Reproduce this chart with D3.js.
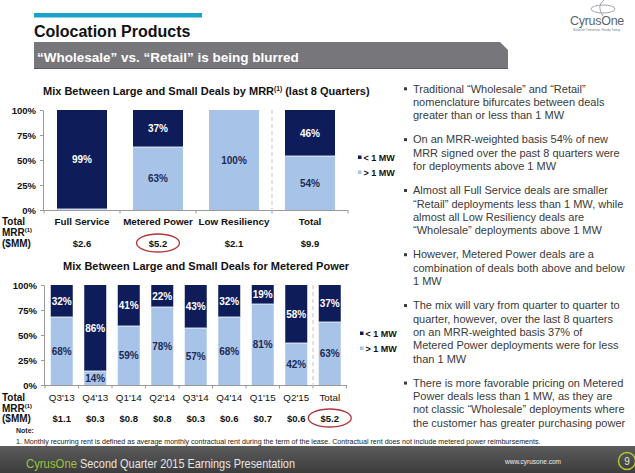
<!DOCTYPE html>
<html><head><meta charset="utf-8">
<script src="https://cdn.jsdelivr.net/npm/d3@7/dist/d3.min.js"></script>
<style>
html,body{margin:0;padding:0;background:#fff;}
svg{display:block;font-family:"Liberation Sans",Arial,sans-serif;}
</style></head>
<body>
<svg id="c" width="635" height="473"></svg>
<script>
// ---- data ----
const topCategories = ["Full Service", "Metered Power", "Low Resiliency", "Total"];
const topSmall = [99, 37, 0, 46];   // < 1 MW
const topLarge = [1, 63, 100, 54];  // > 1 MW
const topMRR = ["$2.6", "$5.2", "$2.1", "$9.9"];

const quarters = ["Q3'13", "Q4'13", "Q1'14", "Q2'14", "Q3'14", "Q4'14", "Q1'15", "Q2'15", "Total"];
const qSmall = [32, 86, 41, 22, 43, 32, 19, 58, 37];
const qLarge = [68, 14, 59, 78, 57, 68, 81, 42, 63];
const qMRR = ["$1.1", "$0.3", "$0.8", "$0.8", "$0.3", "$0.6", "$0.7", "$0.6", "$5.2"];

const yTicks = [0, 25, 50, 75, 100];
const legendLabels = ["< 1 MW", "> 1 MW"];

const bullets = [
  ["Traditional \u201cWholesale\u201d and \u201cRetail\u201d", "nomenclature bifurcates between deals", "greater than or less than 1 MW"],
  ["On an MRR-weighted basis 54% of new", "MRR signed over the past 8 quarters were", "for deployments above 1 MW"],
  ["Almost all Full Service deals are smaller", "\u201cRetail\u201d deployments less than 1 MW, while", "almost all Low Resiliency deals are", "\u201cWholesale\u201d deployments above 1 MW"],
  ["However, Metered Power deals are a", "combination of deals both above and below", "1 MW"],
  ["The mix will vary from quarter to quarter to", "quarter, however, over the last 8 quarters", "on an MRR-weighted basis 37% of", "Metered Power deployments were for less", "than 1 MW"],
  ["There is more favorable pricing on Metered", "Power deals less than 1 MW, as they are", "not classic \u201cWholesale\u201d deployments where", "the customer has greater purchasing power"]
];

// ---- styles ----
const DARK = "#0e1d5a", LIGHT = "#a8c3e8", LABEL_DARK = "#1c2a56";
const svg = d3.select("#c");

// header
svg.append("rect").attr("x", 34).attr("y", 13).attr("width", 168).attr("height", 4.5).attr("fill", "#1ba2c9");
svg.append("text").attr("x", 34).attr("y", 36.5).attr("font-size", 16).attr("font-weight", "bold").attr("fill", "#111").text("Colocation Products");
svg.append("path").attr("d", "M34,42 H500 L508,50 V69 H34 Z").attr("fill", "#77777b");
svg.append("line").attr("x1", 34).attr("x2", 508).attr("y1", 68.5).attr("y2", 68.5).attr("stroke", "#5d5d60");
svg.append("text").attr("x", 37).attr("y", 61.5).attr("font-size", 13.5).attr("font-weight", "bold").attr("fill", "#fff")
  .text("\u201cWholesale\u201d vs. \u201cRetail\u201d is being blurred");

// logo
const logo = svg.append("g");
logo.append("ellipse").attr("cx", 603).attr("cy", 9).attr("rx", 12).attr("ry", 4).attr("fill", "none").attr("stroke", "#8a9097").attr("stroke-width", 0.8);
logo.append("path").attr("d", "M604,0 Q596,6 603,16").attr("fill", "none").attr("stroke", "#8a9097").attr("stroke-width", 0.8);
logo.append("text").attr("x", 597).attr("y", 25).attr("text-anchor", "middle").attr("font-size", 12.5).attr("fill", "#5b6470").attr("letter-spacing", -0.3).text("CyrusOne");
logo.append("text").attr("x", 597).attr("y", 31).attr("text-anchor", "middle").attr("font-size", 3.2).attr("fill", "#7a7f86").text("Build for Tomorrow. Ready Today.");

// generic stacked chart
function stacked(opts) {
  const g = svg.append("g");
  const x = d3.scaleBand().domain(opts.cats).range(opts.xr).paddingInner(opts.pad).paddingOuter(opts.pad / 2);
  const y = d3.scaleLinear().domain([0, 100]).range(opts.yr);
  // title
  const t = g.append("text").attr("x", opts.titleX).attr("y", opts.titleY).attr("font-size", opts.titleSize).attr("font-weight", "bold").attr("fill", "#111");
  t.append("tspan").text(opts.title[0]);
  if (opts.title.length > 1) {
    t.append("tspan").attr("font-size", opts.titleSize * 0.6).attr("dy", -4).text(opts.title[1]);
    t.append("tspan").attr("dy", 4).text(opts.title[2]);
  }
  // y axis
  const ya = g.append("g").attr("transform", `translate(${opts.xr[0] - 1},0)`)
    .call(d3.axisLeft(y).tickValues(yTicks).tickFormat(d => d + "%").tickSize(3).tickSizeOuter(0).tickPadding(4));
  ya.select(".domain").attr("stroke", "#9a9a9a");
  ya.selectAll(".tick line").attr("stroke", "#9a9a9a");
  ya.selectAll("text").attr("font-size", 9.5).attr("font-weight", "bold").attr("fill", "#111").attr("font-family", "Liberation Sans, Arial, sans-serif");
  // x axis line with boundary ticks
  const y0 = y(0);
  g.append("line").attr("x1", opts.xr[0] - 1).attr("x2", opts.xr[1]).attr("y1", y0 + 0.5).attr("y2", y0 + 0.5).attr("stroke", "#9a9a9a");
  const bounds = opts.cats.map(c => x(c) - x.step() * opts.pad / 2).concat([x(opts.cats[opts.cats.length - 1]) + x.bandwidth() + x.step() * opts.pad / 2]);
  g.selectAll(".bt").data(bounds).join("line").attr("x1", d => d).attr("x2", d => d).attr("y1", y0).attr("y2", y0 + 3.5).attr("stroke", "#9a9a9a");
  // dashed separator before last
  const sep = bounds[bounds.length - 2];
  g.append("line").attr("x1", sep).attr("x2", sep).attr("y1", y(100)).attr("y2", y0 + 3).attr("stroke", "#c4c4c4").attr("stroke-dasharray", "4,3");
  // bars
  opts.cats.forEach((c, i) => {
    const lg = opts.large[i], sm = opts.small[i];
    g.append("rect").attr("x", x(c)).attr("width", x.bandwidth()).attr("y", y(lg)).attr("height", y0 - y(lg)).attr("fill", LIGHT);
    g.append("rect").attr("x", x(c)).attr("width", x.bandwidth()).attr("y", y(lg + sm)).attr("height", y(lg) - y(lg + sm)).attr("fill", DARK);
    if (sm > 0 && lg > 0) g.append("line").attr("x1", x(c)).attr("x2", x(c) + x.bandwidth()).attr("y1", y(lg)).attr("y2", y(lg)).attr("stroke", "#fff").attr("stroke-width", 0.8);
    const cx = x(c) + x.bandwidth() / 2;
    if (sm >= 5) g.append("text").attr("x", cx).attr("y", (y(lg) + y(lg + sm)) / 2).attr("dy", "0.35em").attr("text-anchor", "middle")
      .attr("font-size", opts.lblSize).attr("font-weight", "bold").attr("fill", "#fff").text(sm + "%");
    if (lg >= 5) g.append("text").attr("x", cx).attr("y", (y0 + y(lg)) / 2).attr("dy", "0.35em").attr("text-anchor", "middle")
      .attr("font-size", opts.lblSize).attr("font-weight", "bold").attr("fill", LABEL_DARK).text(lg + "%");
    // category label
    g.append("text").attr("x", cx).attr("y", opts.catY).attr("text-anchor", "middle").attr("font-size", opts.catSize)
      .attr("font-weight", opts.catBold ? "bold" : "normal").attr("fill", "#111").text(c);
    // MRR value
    g.append("text").attr("x", cx).attr("y", opts.valY).attr("text-anchor", "middle").attr("font-size", 9.5).attr("font-weight", "bold").attr("fill", "#111").text(opts.mrr[i]);
    if (opts.circle === i) g.append("ellipse").attr("cx", cx).attr("cy", opts.valY - 3.5).attr("rx", 21.5).attr("ry", 9).attr("fill", "none").attr("stroke", "#b1353d").attr("stroke-width", 1.3);
  });
  // row label
  const rl = g.append("text").attr("font-size", 10).attr("font-weight", "bold").attr("fill", "#111");
  rl.append("tspan").attr("x", 2).attr("y", opts.catY).text("Total");
  rl.append("tspan").attr("x", 2).attr("y", opts.catY + 11).text("MRR");
  rl.append("tspan").attr("font-size", 6).attr("dy", -4).text("(1)");
  rl.append("tspan").attr("x", 2).attr("y", opts.valY).text("($MM)");
  // legend
  legendLabels.forEach((l, i) => {
    const ly = opts.legY + i * 15;
    g.append("rect").attr("x", opts.legX).attr("y", ly - 5).attr("width", 3.5).attr("height", 3.5).attr("fill", i === 0 ? DARK : LIGHT);
    g.append("text").attr("x", opts.legX + 5.5).attr("y", ly).attr("font-size", 9).attr("font-weight", "bold").attr("fill", "#111").text(l);
  });
}

stacked({
  cats: topCategories, small: topSmall, large: topLarge, mrr: topMRR,
  xr: [44, 348], yr: [210, 110], pad: 26 / 76,
  title: ["Mix Between Large and Small Deals by MRR", "(1)", " (last 8 Quarters)"], titleX: 43, titleY: 95, titleSize: 11,
  lblSize: 10, catY: 225, catSize: 9.8, catBold: true, valY: 246.5, circle: 1, legX: 358, legY: 160.5
});
stacked({
  cats: quarters, small: qSmall, large: qLarge, mrr: qMRR,
  xr: [45, 346.5], yr: [385, 285], pad: 11.5 / 33.5,
  title: ["Mix Between Large and Small Deals for Metered Power"], titleX: 63, titleY: 270, titleSize: 11,
  lblSize: 10, catY: 400.5, catSize: 9.8, catBold: false, valY: 421.5, circle: 8, legX: 360, legY: 336.5
});

// bullets
let by = 92.5;
const LS = 13.33, GAP = 24.2;
const bg = svg.append("g").attr("font-size", 11).attr("fill", "#3a3a3a");
bullets.forEach(lines => {
  bg.append("rect").attr("x", 404).attr("y", by - 5.2).attr("width", 3).attr("height", 3).attr("fill", "#3a3a3a");
  lines.forEach((ln, j) => {
    bg.append("text").attr("x", 413).attr("y", by + j * LS).text(ln);
  });
  by += (lines.length - 1) * LS + GAP;
});

// footnote
svg.append("text").attr("x", 16).attr("y", 433).attr("font-size", 7).attr("font-weight", "bold").attr("fill", "#222").text("Note:");
svg.append("text").attr("x", 16).attr("y", 443.5).attr("font-size", 7.1).attr("fill", "#222")
  .text("1. Monthly recurring rent is defined as average monthly contractual rent during the term of the lease. Contractual rent does not include metered power reimbursements.");

// footer
const defs = svg.append("defs");
const gr = defs.append("linearGradient").attr("id", "fg").attr("x1", 0).attr("x2", 0).attr("y1", 0).attr("y2", 1);
gr.append("stop").attr("offset", 0).attr("stop-color", "#5c5c5c");
gr.append("stop").attr("offset", 1).attr("stop-color", "#3c3c3c");
svg.append("rect").attr("x", 0).attr("y", 446).attr("width", 635).attr("height", 27).attr("fill", "url(#fg)");
const FF = "'Liberation Sans Narrow','Liberation Sans',Arial,sans-serif";
svg.append("text").attr("x", 26).attr("y", 468).attr("font-size", 13).attr("font-family", FF)
  .attr("textLength", 51).attr("lengthAdjust", "spacingAndGlyphs").attr("fill", "#9cc43e").text("CyrusOne");
svg.append("text").attr("x", 80).attr("y", 468).attr("font-size", 13).attr("font-family", FF)
  .attr("textLength", 215).attr("lengthAdjust", "spacingAndGlyphs").attr("fill", "#e6e6e6").text("Second Quarter 2015 Earnings Presentation");
svg.append("text").attr("x", 505).attr("y", 464).attr("font-size", 6.5).attr("fill", "#eee").text("www.cyrusone.com");
svg.append("circle").attr("cx", 627).attr("cy", 461).attr("r", 8.5).attr("fill", "none").attr("stroke", "#b8cb2c").attr("stroke-width", 1.4);
svg.append("text").attr("x", 627).attr("y", 465).attr("text-anchor", "middle").attr("font-size", 10).attr("fill", "#e8e8c0").text("9");
</script>
</body></html>
